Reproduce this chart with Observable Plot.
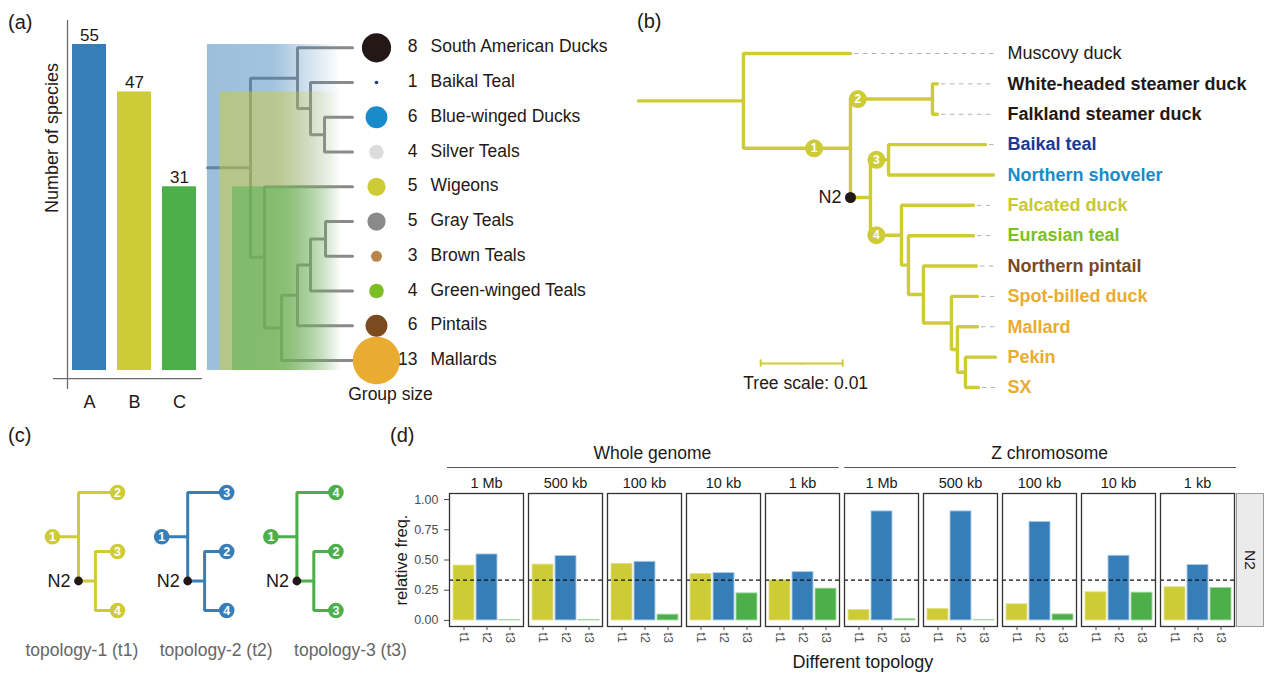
<!DOCTYPE html>
<html>
<head>
<meta charset="utf-8">
<script src="https://cdn.jsdelivr.net/npm/d3@7"></script>
<script src="https://cdn.jsdelivr.net/npm/@observablehq/plot@0.6"></script>
<style>
  html,body{margin:0;padding:0;background:#fff;}
  #fig{position:relative;width:1264px;height:673px;overflow:hidden;background:#fff;font-family:"Liberation Sans",Arial,Helvetica,sans-serif;color:#231815;}
  #fig .slot{position:absolute;}
  #fig svg{display:block;max-width:none;background:transparent;overflow:visible;}
  #fig .txt{position:absolute;white-space:nowrap;line-height:1;}
</style>
</head>
<body>
<div id="fig"></div>
<script>
// ================= DATA =================
// (a) species per clade set
const barCategories = ["A", "B", "C"];
const barSpecies = [55, 47, 31];

// (a) duck groups and their sizes
const groupNames = ["South American Ducks", "Baikal Teal", "Blue-winged Ducks", "Silver Teals", "Wigeons",
  "Gray Teals", "Brown Teals", "Green-winged Teals", "Pintails", "Mallards"];
const groupSizes = [8, 1, 6, 4, 5, 5, 3, 4, 6, 13];
const groupTreeNewick = "((South American Ducks:55,(Baikal Teal:42,(Blue-winged Ducks:28,Silver Teals:28):14):13):47,(Wigeons:88,((((Gray Teals:27,Brown Teals:27):15,Green-winged Teals:42):13,Pintails:55):16,Mallards:71):17):14):43;";

// (b) species tree with branch lengths
const duckTreeNewick = "(Muscovy duck:0.01305,((White-headed steamer duck:0.0006,Falkland steamer duck:0.0006)2:0.0100,((Baikal teal:0.01183,Northern shoveler:0.0128)3:0.0022,(Falcated duck:0.00878,(Eurasian teal:0.00793,(Northern pintail:0.00646,(Spot-billed duck:0.00317,(Mallard:0.00244,(Pekin:0.00366,SX:0.00159):0.00098):0.00073):0.00341):0.00183):0.00085)4:0.00378)N2:0.00244)1:0.01305):0.0128;";
const treeScaleLength = 0.01;
const focalNode = "N2";

// (c) three topologies around N2
const topologyNames = ["topology-1 (t1)", "topology-2 (t2)", "topology-3 (t3)"];
const topologyCodes = ["t1", "t2", "t3"];
const topologyOutgroup = ["1", "1", "1"];
const topologySister = ["2", "3", "4"];
const topologyInner = [["3", "4"], ["2", "4"], ["2", "3"]];

// (d) relative frequencies of topologies
const freqGroups = ["Whole genome", "Z chromosome"];
const windowSizes = ["1 Mb", "500 kb", "100 kb", "10 kb", "1 kb"];
const freqWholeGenome = [
  [0.454, 0.546, 0.003],
  [0.462, 0.533, 0.005],
  [0.468, 0.485, 0.048],
  [0.384, 0.392, 0.224],
  [0.333, 0.400, 0.263]
];
const freqZChromosome = [
  [0.087, 0.902, 0.011],
  [0.095, 0.902, 0.003],
  [0.134, 0.815, 0.050],
  [0.233, 0.535, 0.230],
  [0.275, 0.459, 0.269]
];
const expectedFreq = 1 / 3;

// ================= STYLE =================
const FONT = '"Liberation Sans", Arial, Helvetica, sans-serif';
const INK = "#231815";
const BLUE = "#377eb8", OLIVE = "#cdcc37", GREEN = "#4daf4a";
const barColors = [BLUE, OLIVE, GREEN];
const groupColors = {
  "South American Ducks": "#231815", "Baikal Teal": "#1b3994", "Blue-winged Ducks": "#1a8bca",
  "Silver Teals": "#dcdcdc", "Wigeons": "#cdcc37", "Gray Teals": "#8a8a8a", "Brown Teals": "#b9854a",
  "Green-winged Teals": "#7cbf24", "Pintails": "#7b4a1e", "Mallards": "#eaab31"
};
const duckLabelColors = {
  "Muscovy duck": INK, "White-headed steamer duck": INK, "Falkland steamer duck": INK,
  "Baikal teal": "#1b3994", "Northern shoveler": "#1a8bca", "Falcated duck": "#c9c833",
  "Eurasian teal": "#7cbf24", "Northern pintail": "#7b4a1e", "Spot-billed duck": "#eaab31",
  "Mallard": "#eaab31", "Pekin": "#eaab31", "SX": "#eaab31"
};
const plainLabels = new Set(["Muscovy duck"]);
const topoColors = {t1: OLIVE, t2: BLUE, t3: GREEN};
const topoStroke = {t1: "#e2e18c", t2: "#a9cbe9", t3: "#a3d9a1"};

// ================= HELPERS =================
const fig = document.getElementById("fig");
function place(node, left, top) {
  const d = document.createElement("div");
  d.className = "slot"; d.style.left = left + "px"; d.style.top = top + "px";
  d.appendChild(node); fig.appendChild(d);
}
function htmlText(text, left, top, css = {}) {
  const d = document.createElement("div");
  d.className = "txt"; d.textContent = text;
  d.style.left = left + "px"; d.style.top = top + "px";
  Object.assign(d.style, css);
  fig.appendChild(d);
  return d;
}
const baseStyle = {fontFamily: FONT, fontSize: "18px", color: INK, background: "transparent", overflow: "visible"};

function parseNewick(s) {
  let i = 0;
  function node() {
    const n = {children: [], name: "", len: 0};
    if (s[i] === "(") {
      i++;
      n.children.push(node());
      while (s[i] === ",") { i++; n.children.push(node()); }
      i++;
    }
    let name = "";
    while (i < s.length && !",():;".includes(s[i])) name += s[i++];
    n.name = name.trim();
    if (s[i] === ":") {
      i++;
      let num = "";
      while (i < s.length && !",();".includes(s[i])) num += s[i++];
      n.len = +num;
    }
    return n;
  }
  return node();
}
function layoutTree(root) {
  const nodes = []; let tip = 0;
  (function walk(n, px, parent) {
    n.px = px; n.x = px + n.len; n.parent = parent;
    nodes.push(n);
    if (n.children.length) {
      n.children.forEach(c => walk(c, n.x, n));
      n.y = (n.children[0].y + n.children[n.children.length - 1].y) / 2;
    } else n.y = tip++;
  })(root, 0, null);
  return nodes;
}
function branchPoints(nodes) {
  const pts = [];
  nodes.forEach((n, k) => {
    if (n.parent) pts.push({id: k, x: n.px, y: n.parent.y}, {id: k, x: n.px, y: n.y}, {id: k, x: n.x, y: n.y});
    else pts.push({id: k, x: 0, y: n.y}, {id: k, x: n.x, y: n.y});
  });
  return pts;
}

// ================= PANEL (a): group tree + legend =================
const gNodes = layoutTree(parseNewick(groupTreeNewick));
const gTips = gNodes.filter(n => !n.children.length);
const gMax = d3.max(gTips, d => d.x);
const legend = gTips.map(t => ({name: t.name, y: t.y, size: groupSizes[groupNames.indexOf(t.name)]}));

place(Plot.plot({
  width: 420, height: 410,
  style: baseStyle,
  x: {domain: [0, 413], range: [7, 420], axis: null},
  y: {domain: [0, groupNames.length - 1], range: [47.3, 360], axis: null},
  r: {type: "linear", domain: [0, 13], range: [0, 23.7]},
  color: {type: "identity"},
  marks: [
    Plot.line(branchPoints(gNodes), {x: "x", y: "y", z: "id", stroke: "#8a8a8a", strokeWidth: 3, strokeLinejoin: "miter"}),
    Plot.dot(legend, {x: () => gMax, y: "y", r: "size", fill: d => groupColors[d.name], dx: 24}),
    Plot.text(legend, {x: () => gMax, y: "y", text: d => String(d.size), textAnchor: "end", dx: 65, dy: -1, fontSize: 17.5, fill: INK}),
    Plot.text(legend, {x: () => gMax, y: "y", text: "name", textAnchor: "start", dx: 78, dy: -1, fontSize: 17.5, fill: INK}),
    Plot.text(["Group size"], {x: () => gMax, y: () => groupNames.length - 1, text: d => d, dx: 38, dy: 34, fontSize: 17.5, fill: INK})
  ]
}), 200, 0);

// ================= PANEL (a): bars =================
const barData = barCategories.map((c, i) => ({cat: c, i, value: barSpecies[i]}));
const gradientDefs = () => {
  const defs = d3.create("svg:defs");
  barData.forEach(d => {
    const g = defs.append("linearGradient").attr("id", "fadeA" + d.i)
      .attr("x1", 0).attr("x2", 1).attr("y1", 0).attr("y2", 0);
    g.append("stop").attr("offset", 0).attr("stop-color", barColors[d.i]).attr("stop-opacity", 0.5);
    g.append("stop").attr("offset", 0.5).attr("stop-color", barColors[d.i]).attr("stop-opacity", 0.46);
    g.append("stop").attr("offset", 1).attr("stop-color", barColors[d.i]).attr("stop-opacity", 0);
  });
  return defs.node();
};
place(Plot.plot({
  width: 345, height: 420,
  marginLeft: 67, marginRight: 4, marginTop: 20, marginBottom: 31,
  style: baseStyle,
  x: {domain: [-0.489, 5.6], axis: null},
  y: {domain: [-3.2, 59.05], axis: null},
  color: {type: "identity"},
  marks: [
    gradientDefs,
    Plot.rect(barData, {x1: d => 2.62 + 0.28 * d.i, x2: () => 5.6, y1: () => 0, y2: "value", fill: d => `url(#fadeA${d.i})`}),
    Plot.rect(barData, {x1: d => d.i - 0.378, x2: d => d.i + 0.378, y1: () => 0, y2: "value", fill: d => barColors[d.i]}),
    Plot.text(barData, {x: "i", y: "value", text: d => String(d.value), dy: -9, fontSize: 17, fill: INK}),
    Plot.ruleX([-0.489], {stroke: "#6b6b6b", strokeWidth: 1.3}),
    Plot.ruleY([-1.35], {x1: () => -0.8, x2: () => 2.51, stroke: "#6b6b6b", strokeWidth: 1.3}),
    Plot.axisX({ticks: barData.map(d => d.i), tickFormat: i => barCategories[i], tickSize: 0, tickPadding: 6, fontSize: 18, label: null, color: INK}),
    Plot.text(["Number of species"], {frameAnchor: "left", text: d => d, rotate: -90, dx: -15, dy: 8, fontSize: 18, fill: INK})
  ]
}), 0, 0);

// ================= PANEL (b): species tree =================
const dNodes = layoutTree(parseNewick(duckTreeNewick));
const dTips = dNodes.filter(n => !n.children.length);
const dMax = d3.max(dTips, d => d.x);
const markerAt = {"1": 0.66, "2": 0.09, "3": 0.33, "4": 0.19};
const markers = dNodes.filter(n => n.name in markerAt).map(n => ({label: n.name, x: n.px + markerAt[n.name] * n.len, y: n.y}));
const focal = dNodes.filter(n => n.name === focalNode).map(n => ({label: n.name, x: n.px, y: n.y}));
const sbX = 0.0149, sbY = 10.21;
place(Plot.plot({
  width: 644, height: 380,
  style: baseStyle,
  x: {domain: [0, 0.05], range: [18, 428], axis: null},
  y: {domain: [0, dTips.length - 1], range: [23, 357], axis: null},
  color: {type: "identity"},
  marks: [
    Plot.ruleY(dTips.filter(d => dMax - d.x > 0.0004), {y: "y", x1: "x", x2: () => dMax, insetLeft: 4, stroke: "#b3b3b3", strokeWidth: 1, strokeDasharray: "4.5,4.5"}),
    Plot.line(branchPoints(dNodes), {x: "x", y: "y", z: "id", stroke: OLIVE, strokeWidth: 3.4, strokeLinejoin: "miter"}),
    Plot.dot(markers, {x: "x", y: "y", r: 9, fill: OLIVE}),
    Plot.text(markers, {x: "x", y: "y", text: "label", fill: "white", fontWeight: "bold", fontSize: 12}),
    Plot.dot(focal, {x: "x", y: "y", r: 5.5, fill: INK}),
    Plot.text(focal, {x: "x", y: "y", text: "label", textAnchor: "end", dx: -9, fontSize: 18, fill: INK}),
    Plot.text(dTips.filter(d => plainLabels.has(d.name)), {x: () => dMax, y: "y", text: "name", dx: 12, textAnchor: "start", fontSize: 18, fill: d => duckLabelColors[d.name]}),
    Plot.text(dTips.filter(d => !plainLabels.has(d.name)), {x: () => dMax, y: "y", text: "name", dx: 12, textAnchor: "start", fontSize: 18, fontWeight: "bold", fill: d => duckLabelColors[d.name]}),
    Plot.ruleY([sbY], {x1: () => sbX, x2: () => sbX + treeScaleLength, stroke: OLIVE, strokeWidth: 2}),
    Plot.ruleX([sbX, sbX + treeScaleLength], {y1: () => sbY - 0.12, y2: () => sbY + 0.12, stroke: OLIVE, strokeWidth: 2}),
    Plot.ruleX([sbX + treeScaleLength / 2], {y1: () => sbY, y2: () => sbY + 0.07, stroke: OLIVE, strokeWidth: 1.5}),
    Plot.text([`Tree scale: ${treeScaleLength}`], {x: () => sbX + treeScaleLength / 2, y: () => sbY, text: d => d, dx: 4, dy: 20, fontSize: 17.5, fill: INK})
  ]
}), 620, 30);

// ================= PANEL (c): topologies =================
const cLines = [], cCircles = [], cFocal = [], cLabels = [];
topologyNames.forEach((name, t) => {
  const R = 3 + 4.2 * t, inner = R + 0.65, tip = R + 1.5;
  const code = topologyCodes[t];
  const segs = [
    [[R - 1, 0.75], [R, 0.75]],
    [[R, 1.5], [R, 0], [tip, 0]],
    [[R, 1.5], [inner, 1.5]],
    [[tip, 1], [inner, 1], [inner, 2], [tip, 2]]
  ];
  segs.forEach((s, k) => s.forEach(([x, y]) => cLines.push({id: t * 10 + k, x, y, code})));
  cCircles.push({x: R - 1, y: 0.75, label: topologyOutgroup[t], code});
  cCircles.push({x: tip, y: 0, label: topologySister[t], code});
  cCircles.push({x: tip, y: 1, label: topologyInner[t][0], code});
  cCircles.push({x: tip, y: 2, label: topologyInner[t][1], code});
  cFocal.push({x: R, y: 1.5, label: focalNode});
  cLabels.push({x: 3.13 + 5.165 * t, y: 2.68, label: name});
});
place(Plot.plot({
  width: 420, height: 203,
  style: baseStyle,
  x: {domain: [0, 420 / 26], range: [0, 420], axis: null},
  y: {domain: [0, 2], range: [22, 140], axis: null},
  color: {type: "identity"},
  marks: [
    Plot.line(cLines, {x: "x", y: "y", z: "id", stroke: d => topoColors[d.code], strokeWidth: 3, strokeLinejoin: "miter"}),
    Plot.dot(cCircles, {x: "x", y: "y", r: 7.8, fill: d => topoColors[d.code]}),
    Plot.text(cCircles, {x: "x", y: "y", text: "label", fill: "white", fontWeight: "bold", fontSize: 12.5}),
    Plot.dot(cFocal, {x: "x", y: "y", r: 4.4, fill: INK}),
    Plot.text(cFocal, {x: "x", y: "y", text: "label", textAnchor: "end", dx: -8, fontSize: 18, fill: INK}),
    Plot.text(cLabels, {x: "x", y: "y", text: "label", fontSize: 17.5, fill: "#666666"})
  ]
}), 0, 470);

// ================= PANEL (d): frequencies =================
const panels = freqGroups.flatMap(g => windowSizes.map(w => `${g}|${w}`));
const freqRows = [];
freqGroups.forEach((g, gi) => windowSizes.forEach((w, wi) => topologyCodes.forEach((t, ti) => {
  freqRows.push({panel: `${g}|${w}`, topology: t, value: (gi === 0 ? freqWholeGenome : freqZChromosome)[wi][ti]});
})));
const gap = 0.068;
place(Plot.plot({
  width: 864, height: 203,
  marginLeft: 47, marginRight: 28, marginTop: 23, marginBottom: 47,
  style: baseStyle,
  fx: {domain: panels, paddingInner: gap, paddingOuter: 0, label: null},
  x: {domain: topologyCodes, paddingInner: 0.1, paddingOuter: 0.15, label: null},
  y: {domain: [-0.05, 1.05], label: null},
  color: {type: "identity"},
  marks: [
    Plot.barY(freqRows, {fx: "panel", x: "topology", y1: () => 0, y2: "value", fill: d => topoColors[d.topology], stroke: d => topoStroke[d.topology], strokeWidth: 0.9}),
    Plot.ruleY([expectedFreq], {stroke: "#111", strokeWidth: 1.1, strokeDasharray: "4,3"}),
    Plot.frame({stroke: "#333", strokeWidth: 1.3}),
    Plot.axisY({ticks: [0, 0.25, 0.5, 0.75, 1], tickFormat: d3.format(".2f"), tickSize: 5, tickPadding: 6, fontSize: 12.5, color: "#4d4d4d", label: null}),
    Plot.axisX({tickRotate: 90, tickSize: 4, tickPadding: 2, fontSize: 12.5, color: "#4d4d4d", label: null}),
    Plot.axisFx({anchor: "top", tickSize: 0, tickPadding: 6, fontSize: 14.5, color: "#1a1a1a", label: null, tickFormat: k => k.split("|")[1]})
  ]
}), 400, 470);

// header strips for the two groups
const groupSpans = freqGroups.map((g, gi) => ({name: g, start: gi * windowSizes.length, end: (gi + 1) * windowSizes.length}));
place(Plot.plot({
  width: 864, height: 32,
  marginLeft: 47, marginRight: 28, marginTop: 13, marginBottom: 5,
  style: baseStyle,
  x: {domain: [0, panels.length - gap], axis: null},
  y: {domain: [0, 1], axis: null},
  marks: [
    Plot.ruleY(groupSpans, {y: () => 0, x1: "start", x2: d => d.end - gap, stroke: "#555", strokeWidth: 1.1}),
    Plot.text(groupSpans, {x: d => (d.start + d.end - gap) / 2, y: () => 1, text: "name", dx: 9, fontSize: 17.5, fill: "#1a1a1a"})
  ]
}), 400, 440);

// right facet strip
place(Plot.plot({
  width: 27, height: 133, margin: 0,
  style: baseStyle,
  marks: [
    Plot.frame({fill: "#ebebeb", stroke: "#9a9a9a"}),
    Plot.text([focalNode], {frameAnchor: "middle", text: d => d, rotate: 90, fontSize: 15.5, fill: "#1a1a1a"})
  ]
}), 1236, 493);

// axis titles for (d)
htmlText("relative freq.", 401, 560, {fontSize: "16.5px", color: "#1a1a1a", transform: "translate(-50%,-50%) rotate(-90deg)"});
htmlText("Different topology", 863, 662, {fontSize: "18px", color: "#1a1a1a", transform: "translate(-50%,-50%)"});

// panel tags
htmlText("(a)", 8, 12, {fontSize: "20px"});
htmlText("(b)", 637, 11, {fontSize: "20px"});
htmlText("(c)", 8, 425, {fontSize: "20px"});
htmlText("(d)", 390, 425, {fontSize: "20px"});
</script>
</body>
</html>
